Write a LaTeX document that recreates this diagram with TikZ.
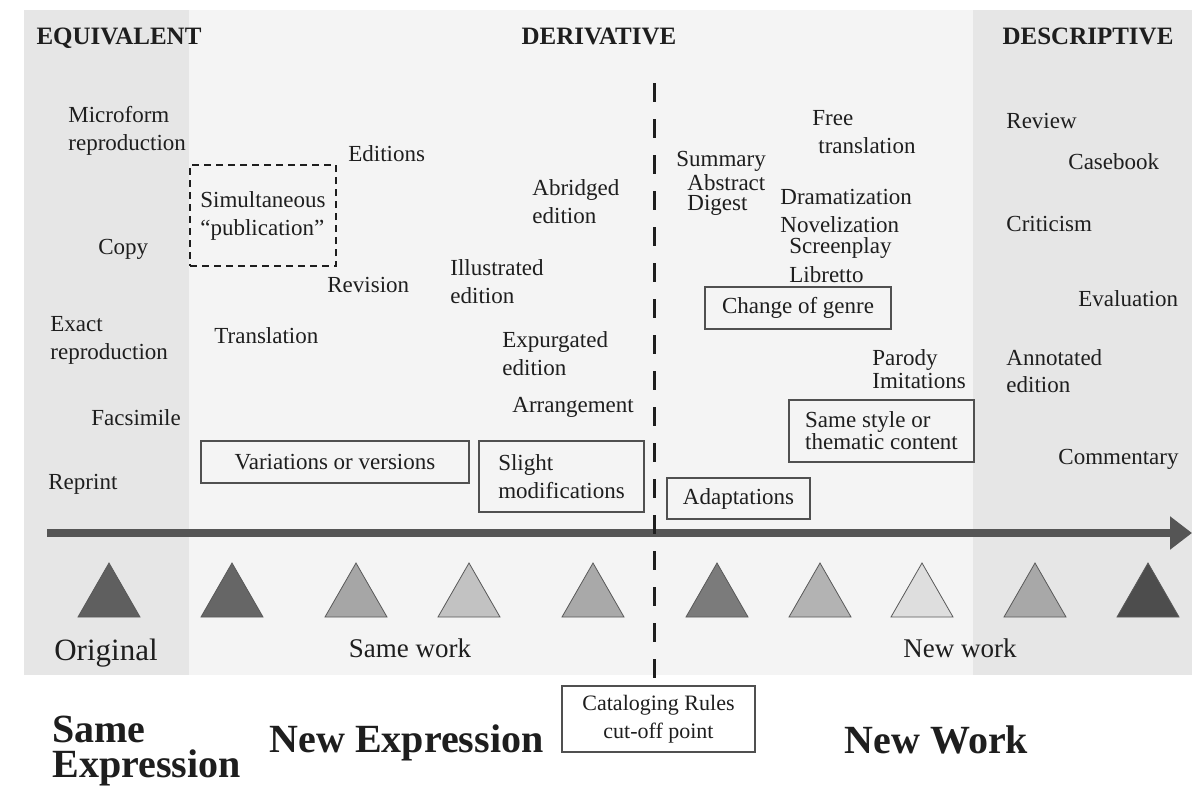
\documentclass[tikz,border=0pt]{standalone}
\usepackage{fontspec}
\setmainfont{Liberation Serif}
\usetikzlibrary{arrows.meta}
\definecolor{bandA}{HTML}{E6E6E6}
\definecolor{bandB}{HTML}{F4F4F4}
\definecolor{ink}{HTML}{1E1E1E}
\definecolor{boxline}{HTML}{505050}
\definecolor{axis}{HTML}{555555}
\begin{document}
\begin{tikzpicture}[x=0.5pt,y=-0.5pt,
  every node/.style={text=ink},
  lbl/.style={inner sep=0pt, font=\fontsize{11.5}{14}\selectfont, align=left, anchor=west},
  head/.style={inner sep=0pt, font=\fontsize{12.5}{15}\selectfont\bfseries, anchor=base},
  box/.style={draw=boxline, line width=0.7pt, inner sep=0pt, font=\fontsize{11.5}{14}\selectfont, align=center},
  dbox/.style={draw=ink, line width=0.7pt, dash pattern=on 3.5pt off 2.5pt, inner sep=0pt, font=\fontsize{11.5}{14}\selectfont, align=left},
  sub/.style={inner sep=0pt, font=\fontsize{13.5}{16}\selectfont, anchor=base},
  big/.style={inner sep=0pt, font=\fontsize{20}{17.5}\selectfont\bfseries, align=left},
  tri/.style={draw=black!65, line width=0.4pt},
  cut/.style={draw=ink, line width=1.5pt, dash pattern=on 9.5pt off 8.5pt}
]
\useasboundingbox (0,0) rectangle (1192,787);
\fill[white] (0,0) rectangle (1192,787);
% background bands
\fill[bandB] (24,10) rectangle (1192,675);
\fill[bandA] (24,10) rectangle (189,675);
\fill[bandA] (973,10) rectangle (1192,675);

% headings
\node[head] (equiv) at (119,44) {EQUIVALENT};
\node[head] (deriv) at (599,44) {DERIVATIVE};
\node[head] (descr) at (1088,44) {DESCRIPTIVE};

% left / equivalent
\node[lbl] (microform) at (68,131) {Microform\\reproduction};
\node[lbl] (copy) at (98,249) {Copy};
\node[lbl] (exact) at (50,340.5) {Exact\\reproduction};
\node[lbl] (facs) at (91,418) {Facsimile};
\node[lbl] (reprint) at (48,484) {Reprint};

% derivative, same work
\node[lbl] (editions) at (348,154) {Editions};
\node[dbox, minimum width=73pt, minimum height=50.5pt] (simul) at (263,215.5) {Simultaneous\\``publication''};
\node[lbl] (revision) at (327,285) {Revision};
\node[lbl] (illus) at (450,282) {Illustrated\\edition};
\node[lbl] (abridged) at (532,201.5) {Abridged\\edition};
\node[lbl] (transl) at (214,336) {Translation};
\node[lbl] (expurg) at (502,353.5) {Expurgated\\edition};
\node[lbl] (arrang) at (512,407) {Arrangement};
\node[box, minimum width=134pt, minimum height=21pt] (variations) at (335,462) {Variations or versions};
\node[box, align=left, minimum width=82.5pt, minimum height=35.5pt] (slight) at (561.5,476.5) {Slight\\modifications};

% new work side
\node[lbl] (summary) at (676,161) {Summary};
\node[lbl] (abstract) at (687,183) {Abstract};
\node[lbl] (digest) at (687,205) {Digest};
\node[lbl] (free) at (812,132) {Free\\\hspace*{3pt}translation};
\node[lbl] (drama) at (780,197) {Dramatization};
\node[lbl] (novel) at (780,225) {Novelization};
\node[lbl] (screen) at (789,248) {Screenplay};
\node[lbl] (libretto) at (789,275) {Libretto};
\node[box, minimum width=93pt, minimum height=21pt] (genre) at (798,308) {Change of genre};
\node[lbl, font=\fontsize{11.5}{11.5}\selectfont] (parody) at (872,369.5) {Parody\\Imitations};
\node[box, align=left, font=\fontsize{11.5}{11}\selectfont, minimum width=92.5pt, minimum height=31pt] (style) at (881.5,431) {Same style or\\thematic content};
\node[box, minimum width=71.5pt, minimum height=20.5pt] (adapt) at (738.5,498.5) {Adaptations};

% descriptive
\node[lbl] (review) at (1006,121) {Review};
\node[lbl] (casebook) at (1068,162) {Casebook};
\node[lbl] (criticism) at (1006,224) {Criticism};
\node[lbl] (evaluation) at (1078,299) {Evaluation};
\node[lbl, font=\fontsize{11.5}{13.5}\selectfont] (annot) at (1006,371.5) {Annotated\\edition};
\node[lbl] (comment) at (1058,459) {Commentary};

% axis arrow
\coordinate (axstart) at (47,533);
\coordinate (axend) at (1192,533);
\draw[axis, line width=4.2pt, -{Triangle[length=11pt,width=16pt]}] (axstart) -- (axend);

% triangles
\foreach \cx/\col in {109/5F5F5F, 232/666666, 356/A6A6A6, 469/C2C2C2, 593/A9A9A9, 717/7B7B7B, 820/B3B3B3, 922/DEDEDE, 1035/A8A8A8, 1148/4D4D4D}{
  \definecolor{tc}{HTML}{\col}
  \filldraw[tri, fill=tc] (\cx-31,617) -- (\cx,563) -- (\cx+31,617) -- cycle;
}

% lower labels
\node[sub, font=\fontsize{15.5}{18}\selectfont] (original) at (106,660) {Original};
\node[sub] (samework) at (410,657) {Same work};
\node[sub] (newwork) at (960,657) {New work};

% cut-off
\node[box, font=\fontsize{11}{14}\selectfont, minimum width=96.5pt, minimum height=33pt, fill=white] (cat) at (658.5,719) {Cataloging Rules\\cut-off point};
\coordinate (cuttop) at (654,83);
\draw[cut] (cuttop) -- (cuttop |- cat.north);

% bottom categories
\node[big, anchor=west] (sameexp) at (52,751) {Same\\Expression};
\node[big] (newexp) at (406.5,743) {New Expression};
\node[big] (newworkB) at (936.5,740) {New Work};
\end{tikzpicture}
\end{document}
